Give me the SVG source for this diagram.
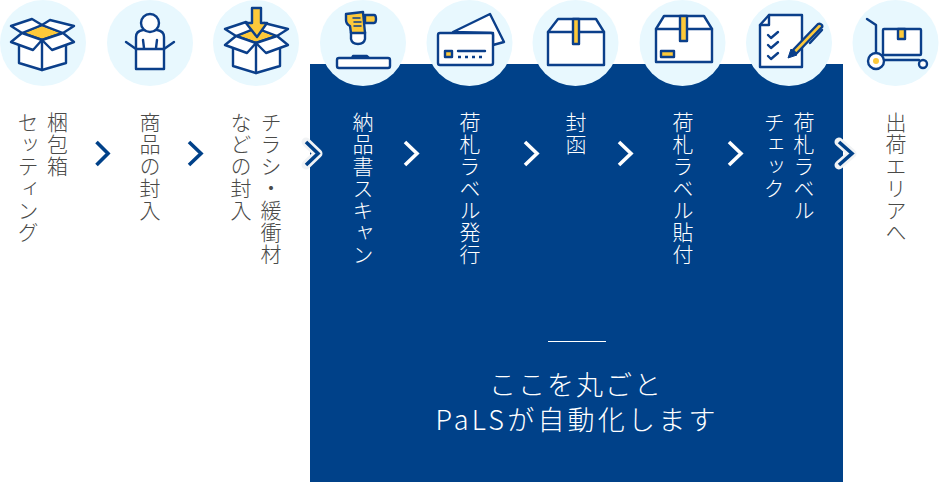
<svg xmlns="http://www.w3.org/2000/svg" width="939" height="482" viewBox="0 0 939 482">
<style>
.bg{fill:#e8f8fe}
.l{fill:none;stroke:#0b3f8a;stroke-width:2.400;stroke-linejoin:round;stroke-linecap:round}
.w{fill:#fff;stroke:#0b3f8a;stroke-width:2.400;stroke-linejoin:round;stroke-linecap:round}
.y{fill:#fdc93a;stroke:#0b3f8a;stroke-width:2.400;stroke-linejoin:round;stroke-linecap:round}
.v{font-family:"Noto Sans CJK JP","Noto Sans",sans-serif;font-size:21px;font-weight:300;letter-spacing:1px;writing-mode:vertical-rl;fill:#4a4a48}
.vw{fill:#fff}
.h{font-family:"Noto Sans CJK JP","Noto Sans",sans-serif;font-size:27px;font-weight:300;letter-spacing:2px;fill:#fff;text-anchor:middle}
.c{fill:none;stroke:#004189;stroke-width:3.600;stroke-linejoin:miter}
.cw{fill:none;stroke:#fff;stroke-width:3.600}
.ch{fill:none;stroke:#f1f3f5;stroke-width:9;stroke-linejoin:round;stroke-linecap:round}
</style>
<defs>
<g id="openbox">
<path class="w" d="M19 45V63L42 70L66 63V45L42 38Z"/>
<path class="l" d="M42 40V70"/>
<path class="y" d="M22 33L42 25L63 33L42 40Z"/>
<path class="w" d="M11 26L32 19L42 25L22 33Z"/>
<path class="w" d="M50 20L74 26L63 33L42 25Z"/>
<path class="w" d="M11 42L22 33L42 40L33 50Z"/>
<path class="w" d="M74 42L63 33L42 40L52 50Z"/>
</g>
</defs>
<rect id="panel" x="310" y="64" width="533" height="418" fill="#004189"/>
<g id="n1"><circle class="bg" cx="43" cy="43" r="43"/><use href="#openbox"/>
<text class="v" x="57.500" y="112">梱包箱</text><text class="v" x="28" y="112">セッティング</text></g>
<g id="n2"><circle class="bg" cx="150" cy="43" r="43"/>
<path class="w" d="M136 49V37Q136 31 143 30H157Q164 31 164 37V49V69H136Z"/>
<circle class="w" cx="150" cy="23" r="9"/>
<path class="l" d="M143 40L144 48M157 40L156 48M126 42L136 49H164L174 42"/>
<text class="v" x="150" y="112">商品の封入</text></g>
<g id="n3"><circle class="bg" cx="256" cy="43" r="43"/><use href="#openbox" x="214" y="3"/>
<path class="y" d="M252 8H261V23H267L257 37L246 23H252Z"/>
<text class="v" x="271" y="112">チラシ・緩衝材</text><text class="v" x="241" y="112">などの封入</text></g>
<g id="n4"><circle class="bg" cx="363" cy="43" r="43"/>
<path class="w" d="M351 32H365L365 39Q364 44 358 44Q352 44 351 39Z"/>
<path class="y" d="M365 15H374Q376 15 376 19Q376 23 374 23H365Z"/>
<path class="y" d="M346 14L363 12L365 33H351L350 26Q346 24 346 20Z"/>
<path class="l" d="M353 18H360M354 22H361M354 26H361" style="stroke-width:1.500"/>
<path class="w" d="M352 58L353 56H367L369 58Z"/>
<rect class="w" x="337" y="58" width="53" height="10" rx="2"/>
<text class="v vw" x="363" y="112">納品書スキャン</text></g>
<g id="n5"><circle class="bg" cx="469.500" cy="43" r="43"/>
<path class="w" d="M453 32L490 14L504 42L493 45V33Z"/>
<rect class="w" x="438" y="33" width="55" height="32" rx="2"/>
<rect class="y" x="445" y="51" width="7" height="6"/>
<path class="l" d="M458 51H485"/>
<path class="l" d="M458 57H485" style="stroke-dasharray:3 4;stroke-linecap:butt"/>
<text class="v vw" x="470" y="112">荷札ラベル発行</text></g>
<g id="n6"><circle class="bg" cx="575.500" cy="43" r="43"/>
<path class="w" d="M548 32L558 19H596L604 32V65H548Z"/>
<path class="l" d="M548 32H604"/>
<path class="y" d="M573 19H579V44H573Z"/>
<text class="v vw" x="576" y="112">封函</text></g>
<g id="n7"><circle class="bg" cx="682.500" cy="43" r="43"/>
<path class="w" d="M656 29L664 16H704L712 29V62H656Z"/>
<path class="l" d="M656 29H712"/>
<path class="y" d="M680 16H687V41H680Z"/>
<rect class="y" x="661" y="51" width="13" height="6"/>
<text class="v vw" x="683" y="112">荷札ラベル貼付</text></g>
<g id="n8"><circle class="bg" cx="789" cy="43" r="43"/>
<path class="w" d="M760 25L769 15H802V67H760Z"/>
<path class="l" d="M769 15V25H760"/>
<path class="l" d="M768 35L771 38L778 32M768 45L771 48L778 42M768 56L771 59L778 53"/>
<path class="l" d="M822 30L810 43"/>
<path class="y" d="M793 50L818 24Q820 23 822 25Q823 27 821 28L796 54Z"/>
<path d="M788 58L791 49L797 55Z" fill="#0b3f8a" stroke="#0b3f8a" stroke-linejoin="round"/>
<text class="v vw" x="804" y="112">荷札ラベル</text><text class="v vw" x="774" y="112">チェック</text></g>
<g id="n9"><circle class="bg" cx="895.500" cy="43" r="43"/>
<path class="l" d="M867 19L876 25V53"/>
<rect class="w" x="883" y="29" width="38" height="26" rx="1"/>
<path class="y" d="M898 29H905V39H898Z"/>
<path class="l" d="M883 60H919"/>
<circle class="w" cx="876" cy="61" r="8"/>
<circle cx="876" cy="61" r="3" fill="#fdc93a"/>
<circle class="w" cx="923" cy="64" r="4"/>
<text class="v" x="896" y="112">出荷エリアへ</text></g>
<g id="connectors">
<path class="c" d="M96.500 142L108 153.500L96.500 165"/>
<path class="c" d="M189 142L201 153.500L189 165"/>
<path class="ch" d="M306 142L318 153.500L306 165"/>
<path class="c" d="M306 142L318 153.500L306 165"/>
<path class="cw" d="M405 142L417 153.500L405 165"/>
<path class="cw" d="M525 142L537 153.500L525 165"/>
<path class="cw" d="M619 142L631 153.500L619 165"/>
<path class="cw" d="M729 142L741 153.500L729 165"/>
<path class="ch" d="M839 142L852 153.500L839 165"/>
<path class="c" d="M839 142L852 153.500L839 165"/>
</g>
<g id="caption">
<rect x="548" y="341" width="58" height="1" fill="#fff"/>
<text class="h" x="576" y="395">ここを丸ごと</text>
<text class="h" x="577" y="430" style="letter-spacing:3.200px">PaLSが自動化します</text>
</g>
</svg>
